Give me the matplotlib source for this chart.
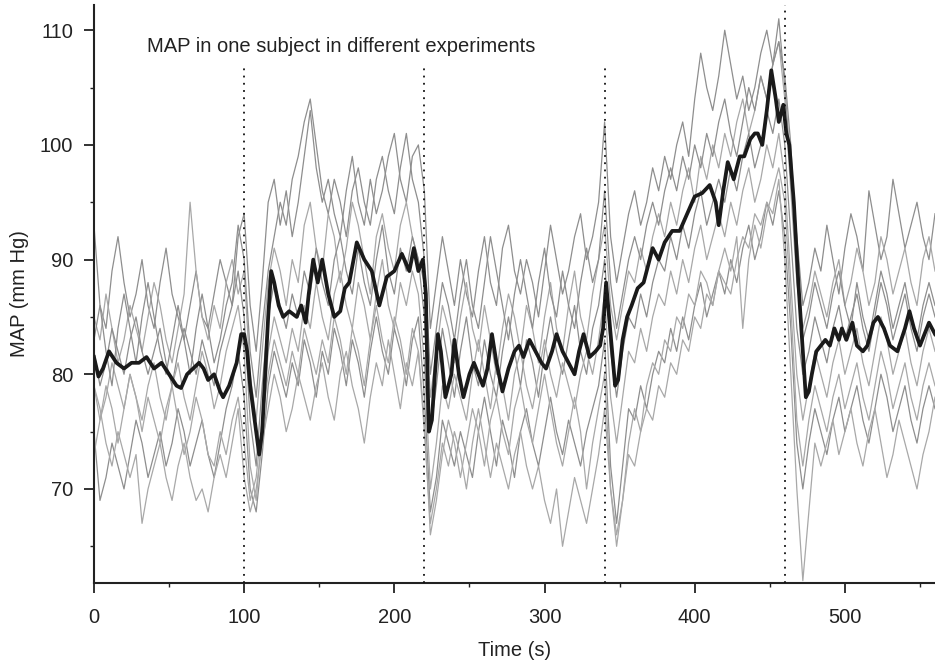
import numpy as np
import matplotlib
matplotlib.use('Agg')
import matplotlib.pyplot as plt

plt.rcParams['font.family'] = ['Liberation Sans', 'DejaVu Sans']

# time grid of the individual experiments (s)
t_exp = np.arange(0, 561, 4)

# MAP of the single experiments (mm Hg)
exp1 = [93, 86, 84, 89, 92, 88, 85, 87, 90, 86, 84, 88, 91, 87, 85, 83, 86, 89, 85, 84, 87, 90, 88, 86, 92,
        94, 86, 82, 88, 95, 97, 93, 96, 92, 95, 99, 103, 98, 95, 97, 94, 92, 96, 99, 95, 93, 97, 94, 96, 99, 101, 97, 95, 99, 100,
        96, 84, 88, 92, 89, 86, 90, 87, 85, 89, 92, 88, 86, 91, 93, 89, 87, 90, 88, 85, 89, 93, 90, 87, 89, 92, 94, 90, 92, 95,
        102, 92, 88, 91, 94, 96, 93, 95, 98, 96, 99, 97, 100, 102, 99, 104, 108, 105, 103, 106, 110, 107, 104, 106, 103, 105, 108, 110, 107, 111,
        105, 98, 92, 86, 88, 91, 89, 93, 90, 87, 91, 94, 92, 89, 96, 93, 90, 92, 97, 94, 91, 93, 95, 92, 90, 94]
exp2 = [85, 83, 87, 84, 81, 83, 86, 84, 82, 85, 88, 86, 83, 81, 84, 87, 95, 89, 85, 83, 86, 84, 88, 90, 87,
        89, 80, 76, 82, 88, 91, 89, 86, 90, 88, 93, 95, 91, 89, 94, 92, 88, 91, 95, 93, 90, 87, 92, 94, 91, 89, 93, 95, 92, 90,
        88, 78, 82, 86, 84, 81, 85, 88, 84, 82, 86, 83, 80, 84, 87, 85, 82, 86, 84, 81, 85, 88, 84, 82, 86, 89, 85, 83, 87, 90,
        93, 86, 83, 86, 89, 88, 91, 89, 92, 94, 92, 95, 93, 96, 98, 95, 99, 97, 100, 98, 101, 99, 102, 104, 101, 103, 106, 104, 107, 109,
        104, 96, 88, 84, 86, 89, 87, 85, 88, 90, 86, 88, 91, 89, 86, 88, 92, 90, 87, 89, 91, 88, 86, 90, 92, 89]
exp3 = [82, 79, 81, 84, 82, 80, 83, 85, 82, 80, 82, 84, 81, 79, 82, 84, 82, 80, 83, 81, 79, 82, 84, 86, 89,
        85, 76, 72, 79, 85, 88, 86, 84, 87, 85, 89, 87, 91, 88, 86, 90, 92, 89, 87, 91, 88, 86, 90, 93, 89, 87, 91, 89, 92, 90,
        85, 75, 79, 84, 81, 78, 82, 85, 81, 79, 83, 80, 78, 82, 85, 82, 79, 83, 81, 78, 82, 85, 82, 80, 83, 86, 82, 80, 84, 86,
        90, 82, 78, 82, 85, 84, 87, 85, 88, 90, 89, 92, 90, 93, 91, 94, 96, 93, 95, 97, 95, 98, 96, 99, 101, 98, 100, 103, 101, 104,
        100, 92, 84, 80, 82, 85, 83, 81, 84, 86, 83, 85, 87, 84, 82, 85, 88, 86, 83, 85, 87, 84, 82, 85, 87, 85]
exp4 = [79, 76, 78, 81, 79, 77, 80, 78, 76, 79, 81, 78, 76, 79, 81, 78, 76, 79, 82, 80, 77, 79, 82, 84, 86,
        82, 72, 69, 75, 82, 85, 83, 81, 84, 82, 86, 84, 88, 85, 83, 87, 89, 86, 84, 88, 86, 83, 87, 90, 86, 84, 88, 86, 89, 87,
        81, 70, 74, 79, 77, 80, 78, 76, 80, 83, 80, 77, 81, 79, 76, 80, 82, 79, 77, 80, 83, 80, 78, 81, 79, 77, 80, 82, 80, 83,
        87, 78, 74, 78, 82, 81, 84, 82, 85, 87, 86, 89, 87, 90, 88, 91, 93, 90, 92, 94, 92, 95, 93, 96, 98, 95, 97, 100, 98, 101,
        97, 88, 80, 76, 79, 82, 80, 78, 81, 83, 80, 82, 84, 81, 79, 82, 85, 83, 80, 82, 84, 81, 79, 82, 84, 82]
exp5 = [75, 69, 71, 74, 72, 70, 73, 76, 74, 71, 73, 75, 72, 74, 77, 75, 72, 74, 76, 73, 71, 74, 77, 79, 82,
        78, 70, 68, 73, 79, 82, 80, 78, 81, 79, 83, 81, 78, 82, 80, 84, 82, 79, 83, 81, 78, 82, 85, 82, 80, 84, 82, 79, 83, 85,
        78, 68, 71, 76, 74, 72, 75, 73, 71, 75, 78, 75, 72, 76, 74, 71, 75, 77, 74, 72, 75, 78, 75, 73, 76, 74, 72, 75, 77, 79,
        83, 72, 67, 72, 77, 76, 79, 77, 80, 82, 81, 84, 82, 85, 83, 86, 88, 85, 87, 89, 87, 90, 88, 91, 93, 90, 92, 95, 93, 96,
        92, 84, 74, 70, 74, 77, 75, 73, 76, 78, 75, 77, 79, 76, 74, 77, 80, 78, 75, 77, 79, 76, 74, 77, 79, 77]
exp6 = [79, 77, 74, 72, 75, 73, 71, 73, 67, 70, 72, 74, 71, 69, 72, 74, 71, 69, 70, 68, 71, 73, 71, 74, 77,
        71, 68, 70, 74, 77, 80, 78, 75, 77, 80, 78, 76, 79, 81, 78, 76, 80, 82, 79, 77, 74, 78, 81, 79, 83, 80, 77, 81, 79, 82,
        75, 67, 70, 74, 72, 75, 73, 70, 74, 77, 74, 71, 74, 72, 70, 73, 75, 72, 70, 72, 69, 67, 70, 65, 68, 71, 69, 67, 70, 73,
        77, 70, 66, 69, 73, 72, 75, 77, 76, 79, 78, 81, 80, 83, 82, 85, 84, 87, 86, 89, 88, 87, 90, 92, 91, 94, 93, 95, 94, 97,
        90, 80, 70, 62, 68, 74, 72, 74, 76, 73, 75, 77, 74, 72, 75, 77, 74, 71, 73, 76, 74, 72, 70, 73, 75, 78]
exp7 = [83, 86, 82, 79, 84, 87, 84, 81, 85, 88, 85, 82, 80, 83, 86, 83, 80, 84, 87, 84, 81, 83, 86, 88, 93,
        90, 82, 78, 84, 89, 92, 95, 93, 97, 99, 102, 104, 100, 96, 94, 97, 95, 92, 96, 98, 95, 93, 97, 99, 96, 94, 98, 101, 97, 95,
        90, 80, 84, 88, 86, 83, 87, 90, 86, 84, 88, 92, 89, 86, 83, 87, 90, 87, 84, 88, 91, 87, 85, 89, 86, 84, 88, 91, 88, 90,
        96, 88, 84, 87, 90, 92, 90, 93, 95, 93, 96, 98, 96, 99, 97, 100, 98, 101, 99, 102, 104, 101, 99, 102, 105, 103, 106, 104, 107, 109,
        106, 100, 90, 83, 85, 88, 86, 84, 87, 89, 86, 84, 88, 85, 83, 86, 89, 87, 84, 86, 88, 85, 83, 86, 88, 86]
exp8 = [73, 76, 79, 77, 74, 77, 80, 78, 75, 78, 76, 74, 77, 79, 76, 73, 75, 78, 76, 73, 72, 75, 73, 76, 78,
        74, 69, 71, 76, 80, 83, 81, 79, 82, 80, 84, 82, 80, 83, 81, 85, 83, 80, 84, 82, 79, 83, 86, 83, 81, 85, 83, 80, 84, 82,
        76, 66, 69, 73, 76, 74, 71, 74, 77, 75, 72, 76, 78, 75, 73, 77, 79, 76, 74, 77, 80, 77, 74, 72, 75, 78, 75, 70, 74, 77,
        80, 70, 65, 69, 74, 77, 75, 79, 81, 80, 83, 82, 85, 84, 87, 86, 89, 88, 86, 89, 91, 89, 92, 84, 90, 93, 91, 94, 96, 98,
        95, 86, 76, 72, 76, 79, 77, 75, 78, 80, 77, 79, 81, 78, 76, 79, 82, 80, 77, 79, 81, 78, 76, 79, 81, 79]

# average curve
t_mean = [0, 3, 6, 10, 15, 20, 25, 30, 35, 40, 45, 50, 55, 58, 62, 66, 70, 73, 76, 80, 84, 86, 90, 95, 98,
          100, 102, 104, 108, 110, 112, 114, 116, 118, 120, 123, 126, 130, 135, 138, 141, 143, 146, 149, 152, 156,
          160, 164, 167, 170, 175, 180, 185, 190, 195, 200, 205, 210, 213, 216, 219, 221, 222, 223, 225, 227, 229,
          231, 234, 238, 240, 243, 246, 250, 253, 256, 259, 262, 265, 268, 272, 276, 280, 283, 286, 290, 294, 298,
          301, 305, 308, 312, 316, 320, 323, 326, 330, 334, 337, 339, 341, 343, 345, 347, 349, 352, 355, 358, 362,
          366, 368, 372, 376, 380, 385, 390, 395, 400, 405, 410, 414, 416, 419, 422, 426, 430, 433, 437, 440, 442,
          445, 448, 451, 454, 456, 459, 461, 463, 466, 469, 472, 474, 476, 478, 481, 484, 487, 490, 493, 496, 498,
          501, 505, 508, 512, 515, 519, 522, 526, 530, 535, 540, 543, 546, 550, 553, 556, 560]
map_mean = [81.5, 79.8, 80.5, 82, 81, 80.5, 81, 81, 81.5, 80.5, 81, 80, 79, 78.8, 80, 80.5, 81, 80.5, 79.5, 80, 78.5, 78, 79, 81, 83.5,
            83.5, 82, 79, 75, 73, 75, 80, 85, 89, 88, 86, 85, 85.5, 85, 86, 84.5, 87, 90, 88, 90, 87,
            85, 85.5, 87.5, 88, 91.5, 90, 89, 86, 88.5, 89, 90.5, 89, 91, 89, 90, 87, 80, 75, 76, 80, 83.5,
            82, 78, 80, 83, 80, 78, 80, 81, 80, 79, 80.5, 83.5, 81, 78.5, 80.5, 82, 82.5, 81.5, 83, 82, 81,
            80.5, 82, 83.5, 82, 81, 80, 82, 83.5, 81.5, 82, 82.5, 84, 88, 85, 82, 79, 79.5, 83, 85, 86, 87.5,
            88, 89, 91, 90, 91.5, 92.5, 92.5, 94, 95.5, 95.8, 96.5, 95, 93, 96, 98.5, 97, 99, 99, 100.5, 101, 101,
            100, 103, 106.5, 104, 102, 103.5, 101, 100, 95, 88, 82, 78, 78.5, 80, 82, 82.5, 83, 82.5, 84, 83, 84,
            83, 84.5, 82.5, 82, 82.5, 84.5, 85, 84, 82.5, 82, 84, 85.5, 84, 82.5, 83.5, 84.5, 83.5]

# intervention times (s)
events = [100, 220, 340, 460]
event_tops = [107, 107, 107, 112.2]

fig = plt.figure(figsize=(9.35, 6.65), dpi=100)
ax = fig.add_axes([0.1005, 0.1233, 0.8995, 0.8692])

experiments = [exp1, exp2, exp3, exp4, exp5, exp6, exp7, exp8]
greys = ['#8e8e8e', '#a8a8a8']
for i, e in enumerate(experiments):
    ax.plot(t_exp, e, color=greys[i % 2], lw=0.9, zorder=2)

ax.plot(t_mean, map_mean, color='#1a1a1a', lw=2.7, zorder=4)

for x, top in zip(events, event_tops):
    ax.vlines(x, 61.8, top, colors='#111111', linestyles=(0, (1, 3)), lw=1.3, zorder=5)

ax.text(35.3, 108.6, 'MAP in one subject in different experiments', fontsize=14.5,
        va='center', ha='left', color='#222222')

ax.set_xlim(0, 560)
ax.set_ylim(61.8, 112.2)
ax.set_xticks([0, 100, 200, 300, 400, 500])
ax.set_xticks(np.arange(50, 560, 100), minor=True)
ax.set_yticks([70, 80, 90, 100, 110])
ax.set_yticks([65, 75, 85, 95, 105], minor=True)

for side in ['top', 'right']:
    ax.spines[side].set_visible(False)
for side in ['left', 'bottom']:
    ax.spines[side].set_linewidth(1.5)
    ax.spines[side].set_color('#222222')

ax.tick_params(which='major', direction='out', length=7, width=1.3, labelsize=14.5, colors='#222222')
ax.tick_params(which='minor', direction='out', length=3, width=1.0, colors='#222222')
ax.tick_params(axis='x', which='major', pad=11)
ax.tick_params(axis='y', which='major', pad=8)

ax.set_xlabel('Time (s)', fontsize=14.5, color='#222222', labelpad=10)
ax.set_ylabel('MAP (mm Hg)', fontsize=14.5, color='#222222', labelpad=8)

fig.savefig('out.png', dpi=100)
